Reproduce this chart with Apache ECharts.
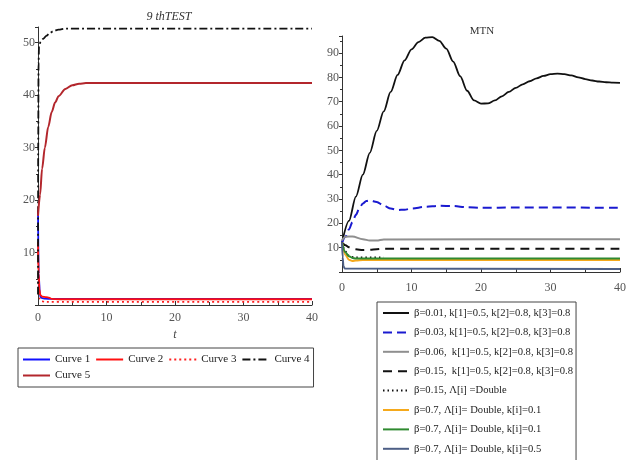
<!DOCTYPE html>
<html><head><meta charset="utf-8">
<script src="https://cdn.jsdelivr.net/npm/echarts@6/dist/echarts.min.js"></script>
<style>html,body{margin:0;padding:0;background:#fff}#c{width:632px;height:460px}</style>
</head><body><div id="c"></div>
<script>
// ---------- left plot: "9 thTEST" ----------
const leftTitle = "9 thTEST";
const leftNames = ["Curve 1", "Curve 2", "Curve 3", "Curve 4", "Curve 5"];
const c1T = [0, 0.1, 0.3, 0.6, 1, 2, 40];
const c1Y = [18, 6, 1.6, 1.3, 1.2, 1.15, 1.15];
const c2T = [0, 0.1, 0.2, 0.35, 0.6, 1.2, 1.6, 2, 3, 40];
const c2Y = [12, 6, 3, 1.9, 1.6, 1.5, 1.4, 1.15, 1.1, 1.1];
const c3T = [0, 0.1, 0.25, 0.5, 1, 40];
const c3Y = [10, 3.5, 1.2, 0.7, 0.6, 0.6];
const c4T = [0, 0.03, 0.08, 0.15, 0.4, 0.8, 1.2, 1.7, 2.2, 3, 4, 40];
const c4Y = [2, 30, 46, 49.5, 50.2, 50.8, 51.3, 51.8, 52.2, 52.5, 52.7, 52.7];
const c5T = [0, 0.3, 0.6, 1, 1.5, 2, 2.5, 3, 4, 5, 6, 7, 40];
const c5Y = [17, 21, 26, 30, 34, 36.8, 38.6, 39.8, 41.2, 41.9, 42.2, 42.3, 42.3];
const leftXTicks = [0, 10, 20, 30, 40];
const leftYTicks = [10, 20, 30, 40, 50];

// ---------- right plot: "MTN" ----------
const rightTitle = "MTN";
const rightNames = [
  "β=0.01, k[1]=0.5, k[2]=0.8, k[3]=0.8",
  "β=0.03, k[1]=0.5, k[2]=0.8, k[3]=0.8",
  "β=0.06,  k[1]=0.5, k[2]=0.8, k[3]=0.8",
  "β=0.15,  k[1]=0.5, k[2]=0.8, k[3]=0.8",
  "β=0.15, Λ[i] =Double",
  "β=0.7, Λ[i]= Double, k[i]=0.1",
  "β=0.7, Λ[i]= Double, k[i]=0.1 ",
  "β=0.7, Λ[i]= Double, k[i]=0.5"
];
const r1T = [0,1,2,3,4,5,6,7,8,9,10,11,12,13,14,15,16,17,18,19,20,21,22,23,24,25,26,27,28,29,30,31,32,33,34,35,36,37,38,39,40];
const r1Y = [12,21,31,40,49,58,66,74,81,87,91.5,94.5,96.3,96.5,95,91.8,86.5,80.5,74.5,70.5,69.2,69.3,70.5,72.2,74,75.7,77.1,78.4,79.6,80.6,81.3,81.5,81.3,80.8,80,79.3,78.7,78.3,78,77.8,77.7];
const r2T = [0,0.5,1,1.5,2,2.5,3,3.5,4,5,6,7,8,9,10,12,14,16,18,20,25,30,40];
const r2Y = [12,14.5,17.5,20.5,23.5,26.2,28.2,29.2,29.4,28.8,27.3,26.1,25.5,25.6,26.1,26.8,27.2,27.1,26.6,26.4,26.5,26.5,26.4];
const r3T = [0,0.5,1.5,3,4,5,6,40];
const r3Y = [13,14.5,14.6,13.5,12.9,12.9,13.4,13.5];
const r4T = [0,0.5,1,2,3,4,5,6,40];
const r4Y = [12,11,10.2,9.3,9,9.1,9.4,9.6,9.6];
const r5T = [0,0.5,1,1.5,2,6];
const r5Y = [12,8.5,6.8,6.2,6,6];
const r6T = [0,0.5,1,1.5,2,3,40];
const r6Y = [12,7,5,4.5,4.7,4.9,4.9];
const r7T = [0,0.5,1,1.5,2,40];
const r7Y = [12,8,6.5,5.8,5.5,5.5];
const r8T = [0,0.1,0.2,0.4,40];
const r8Y = [12,6,2.5,1.4,1.2];
const rightYTicks = [10,20,30,40,50,60,70,80,90];

const zip = (ts, ys) => ts.map((t, i) => [t, ys[i]]);
const FONT = "Liberation Serif";

function mkLine(name, ts, ys, color, width, type, xi, yi) {
  return {
    type: 'line', name, data: zip(ts, ys), xAxisIndex: xi, yAxisIndex: yi,
    symbol: 'none', smooth: 0.3, smoothMonotone: 'x',
    lineStyle: { color, width, type }, itemStyle: { color },
    emphasis: { disabled: true }, animation: false
  };
}

const axisCommon = {
  axisLine: { show: true, onZero: false, lineStyle: { color: '#333', width: 1 } },
  splitLine: { show: false }
};

function xAx(gi, ticks, name, margin) {
  return Object.assign({}, axisCommon, {
    type: 'value', gridIndex: gi, min: ticks[0], max: ticks[ticks.length - 1], interval: 10,
    axisTick: { show: true, inside: true, length: 4, lineStyle: { color: '#333' } },
    minorTick: { show: true, splitNumber: 2, length: 3, lineStyle: { color: '#333' } },
    axisLabel: { fontFamily: FONT, fontSize: 12, color: '#555', margin: margin },
    name: name || '', nameLocation: 'middle', nameGap: 22,
    nameTextStyle: { fontFamily: FONT, fontStyle: 'italic', fontSize: 12, color: '#444' }
  });
}
function yAx(gi, ticks, max) {
  return Object.assign({}, axisCommon, {
    type: 'value', gridIndex: gi, min: 0, max: max, interval: 10,
    axisTick: { show: true, inside: false, length: 3, lineStyle: { color: '#333' } },
    minorTick: { show: true, splitNumber: 2, length: 2, lineStyle: { color: '#333' } },
    axisLabel: {
      fontFamily: FONT, fontSize: 12, color: '#555', margin: 3,
      formatter: v => (ticks.indexOf(v) >= 0 ? String(v) : '')
    }
  });
}

const chart = echarts.init(document.getElementById('c'), null, { renderer: 'canvas' });
chart.setOption({
  backgroundColor: '#fff',
  animation: false,
  title: [
    { text: leftTitle, left: 164, top: 6, textAlign: 'center',
      textStyle: { fontFamily: FONT, fontStyle: 'italic', fontWeight: 'normal', fontSize: 12, color: '#333' } },
    { text: rightTitle, left: 477, top: 21, textAlign: 'center',
      textStyle: { fontFamily: FONT, fontWeight: 'normal', fontSize: 11, color: '#333' } }
  ],
  grid: [
    { left: 38, top: 27, width: 274, height: 278 },
    { left: 342, top: 36, width: 278, height: 236 }
  ],
  xAxis: [xAx(0, leftXTicks, 't', 7), xAx(1, leftXTicks, '', 10)],
  yAxis: [yAx(0, leftYTicks, 53), yAx(1, rightYTicks, 97)],
  legend: [
    {
      data: leftNames, left: 18, top: 348, width: 290, orient: 'horizontal',
      itemWidth: 27, itemHeight: 10, itemGap: 5, padding: [6, 4, 6, 4],
      borderColor: '#444', borderWidth: 1, backgroundColor: '#fff',
      itemStyle: { opacity: 0 },
      textStyle: { fontFamily: FONT, fontSize: 11, color: '#222', lineHeight: 10 },
      selectedMode: false
    },
    {
      data: rightNames, left: 377, top: 302, height: 175, orient: 'vertical',
      itemWidth: 26, itemHeight: 12, itemGap: 7.4, padding: [5, 3, 12, 5],
      borderColor: '#444', borderWidth: 1, backgroundColor: '#fff',
      itemStyle: { opacity: 0 },
      textStyle: { fontFamily: FONT, fontSize: 10.6, color: '#222', lineHeight: 12 },
      selectedMode: false
    }
  ],
  series: [
    mkLine(leftNames[0], c1T, c1Y, '#1010ff', 1.8, 'solid', 0, 0),
    mkLine(leftNames[1], c2T, c2Y, '#ff1010', 1.8, 'solid', 0, 0),
    mkLine(leftNames[2], c3T, c3Y, '#ff2020', 1.6, [2, 3], 0, 0),
    mkLine(leftNames[3], c4T, c4Y, '#111', 1.8, [8, 3, 2, 3], 0, 0),
    mkLine(leftNames[4], c5T, c5Y, '#b3262c', 2, 'solid', 0, 0),

    mkLine(rightNames[0], r1T, r1Y, '#111', 1.8, 'solid', 1, 1),
    mkLine(rightNames[1], r2T, r2Y, '#1a1ad0', 2, [9, 5], 1, 1),
    mkLine(rightNames[2], r3T, r3Y, '#8f8f8f', 2, 'solid', 1, 1),
    mkLine(rightNames[3], r4T, r4Y, '#111', 2, [9, 6], 1, 1),
    mkLine(rightNames[4], r5T, r5Y, '#111', 1.6, [1.5, 3], 1, 1),
    mkLine(rightNames[5], r6T, r6Y, '#f5a91c', 2, 'solid', 1, 1),
    mkLine(rightNames[6], r7T, r7Y, '#2f8a30', 2, 'solid', 1, 1),
    mkLine(rightNames[7], r8T, r8Y, '#4d5f86', 2, 'solid', 1, 1)
  ]
});
</script>
</body></html>
